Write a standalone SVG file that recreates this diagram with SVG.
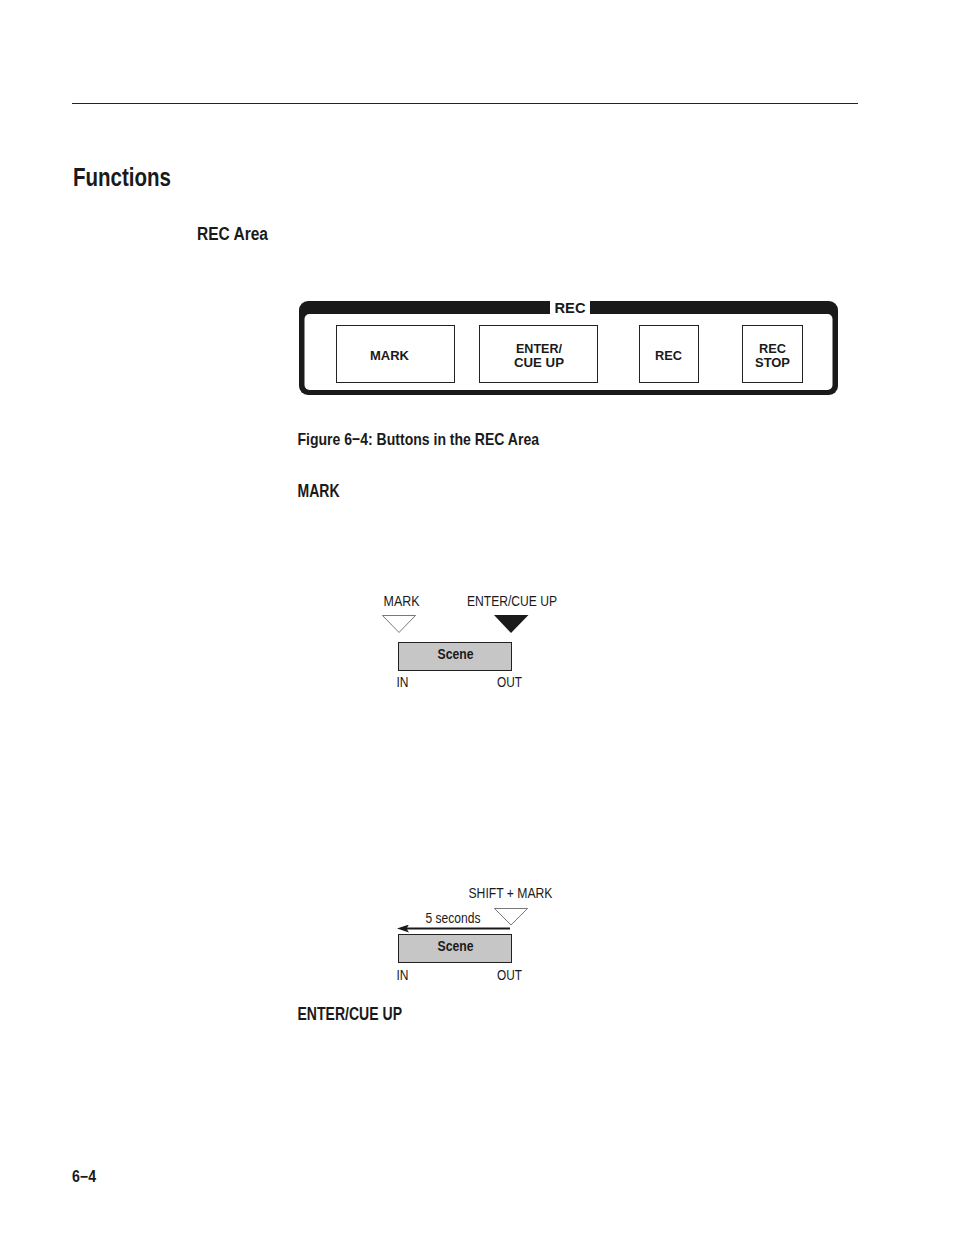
<svg xmlns="http://www.w3.org/2000/svg" width="954" height="1235" viewBox="0 0 954 1235">
<style>
text{font-family:"Liberation Sans",Arial,sans-serif;fill:#1a1a1a}
.b{font-weight:bold}
.h{font-size:18px;font-weight:bold}
.l{font-size:15.500px}
.p{font-size:12.500px;font-weight:bold;text-anchor:middle}
.btn{fill:#fff;stroke:#222;stroke-width:1}
.scene{fill:#c6c6c6;stroke:#222;stroke-width:1}
.open{fill:#fff;stroke:#555;stroke-width:.8}
</style>
<defs><marker id="ah" markerWidth="12" markerHeight="8" refX="7" refY="4" orient="auto" markerUnits="userSpaceOnUse"><path d="M0 0L12 4L0 8L2.500 4Z" fill="#1a1a1a"/></marker></defs>
<rect width="954" height="1235" fill="#fff"/>
<path d="M72 103.500H858" stroke="#222" stroke-width="1"/>
<text x="73" y="186" class="b" font-size="26" textLength="98" lengthAdjust="spacingAndGlyphs">Functions</text>
<text x="197" y="239.500" class="h" textLength="71" lengthAdjust="spacingAndGlyphs">REC Area</text>

<g id="rec-panel">
<rect x="299" y="301" width="539" height="94" rx="9" fill="#1a1a1a"/>
<rect x="304.500" y="314" width="528" height="76" rx="5" fill="#fff"/>
<rect x="550" y="300" width="40" height="14.500" fill="#fff"/>
<text x="570" y="313" class="b" font-size="15" text-anchor="middle" textLength="31" lengthAdjust="spacingAndGlyphs">REC</text>
</g>
<g id="btn-mark"><rect class="btn" x="336.500" y="325.500" width="118" height="57"/><text class="p" x="389.500" y="360" textLength="39" lengthAdjust="spacingAndGlyphs">MARK</text></g>
<g id="btn-enter"><rect class="btn" x="479.500" y="325.500" width="118" height="57"/><text class="p" x="539" y="353" textLength="46" lengthAdjust="spacingAndGlyphs">ENTER/</text><text class="p" x="539" y="367" textLength="50" lengthAdjust="spacingAndGlyphs">CUE UP</text></g>
<g id="btn-rec"><rect class="btn" x="639.500" y="325.500" width="59" height="57"/><text class="p" x="668.500" y="360" textLength="27" lengthAdjust="spacingAndGlyphs">REC</text></g>
<g id="btn-stop"><rect class="btn" x="742.500" y="325.500" width="60" height="57"/><text class="p" x="772.500" y="353" textLength="27" lengthAdjust="spacingAndGlyphs">REC</text><text class="p" x="772.500" y="367" textLength="35" lengthAdjust="spacingAndGlyphs">STOP</text></g>

<text x="297.500" y="444.500" class="h" style="font-size:17px" textLength="241.500" lengthAdjust="spacingAndGlyphs">Figure 6−4: Buttons in the REC Area</text>
<text x="297.500" y="496.500" class="h" textLength="42" lengthAdjust="spacingAndGlyphs">MARK</text>

<g id="diagram-1">
<text x="383.500" y="606" class="l" textLength="36" lengthAdjust="spacingAndGlyphs">MARK</text>
<text x="467" y="606" class="l" textLength="90" lengthAdjust="spacingAndGlyphs">ENTER/CUE UP</text>
<path class="open" d="M382.500 615.500H415.500L399 632.500Z"/>
<path d="M494 615H528.500L511 633Z" fill="#1a1a1a"/>
<rect class="scene" x="398.500" y="642.500" width="113" height="28"/>
<text x="455.500" y="659" class="b" font-size="14.500" text-anchor="middle" textLength="36" lengthAdjust="spacingAndGlyphs">Scene</text>
<text x="396.500" y="687" class="l" textLength="12" lengthAdjust="spacingAndGlyphs">IN</text>
<text x="497" y="687" class="l" textLength="25" lengthAdjust="spacingAndGlyphs">OUT</text>
</g>

<g id="diagram-2">
<text x="468.500" y="898" class="l" textLength="84" lengthAdjust="spacingAndGlyphs">SHIFT + MARK</text>
<text x="425.500" y="923" class="l" textLength="55" lengthAdjust="spacingAndGlyphs">5 seconds</text>
<path class="open" d="M494.500 908.500H527.500L511 925Z"/>
<rect class="scene" x="398.500" y="934.500" width="113" height="28"/>
<text x="455.500" y="951" class="b" font-size="14.500" text-anchor="middle" textLength="36" lengthAdjust="spacingAndGlyphs">Scene</text>
<text x="396.500" y="980" class="l" textLength="12" lengthAdjust="spacingAndGlyphs">IN</text>
<text x="497" y="980" class="l" textLength="25" lengthAdjust="spacingAndGlyphs">OUT</text>
</g>
<g id="connectors"><path d="M510 928.500H402" stroke="#1a1a1a" stroke-width="2" fill="none" marker-end="url(#ah)"/></g>

<text x="297.500" y="1019.500" class="h" textLength="104.500" lengthAdjust="spacingAndGlyphs">ENTER/CUE UP</text>
<text x="72" y="1182" class="b" font-size="16" textLength="24" lengthAdjust="spacingAndGlyphs">6−4</text>
</svg>
